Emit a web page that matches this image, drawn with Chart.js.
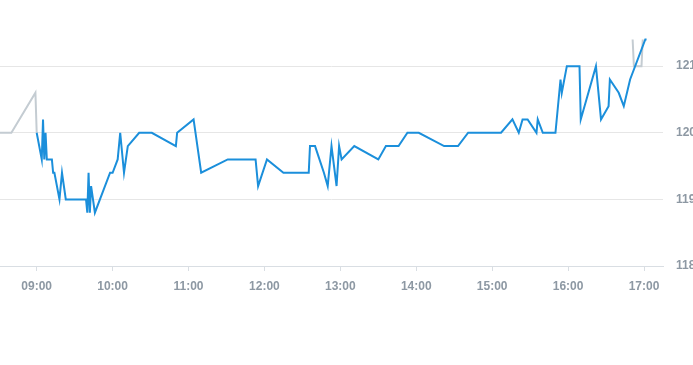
<!DOCTYPE html>
<html>
<head>
    <title>Intraday Price</title>
    <style>
        html, body {
            margin: 0;
            padding: 0;
            background: #ffffff;
            overflow: hidden;
            width: 693px;
            height: 365px;
        }
        #chart-container {
            position: absolute;
            left: 0;
            top: -20px;
        }
    </style>
    <script src="https://cdn.jsdelivr.net/npm/chart.js"></script>
</head>
<body>
    <div id="chart-container">
        <canvas id="chart" width="715" height="320"></canvas>
    </div>
    <script>
        // times are "HH:MM", values are prices
        const regularTimes = [
            '09:00', '09:04', '09:05', '09:06', '09:07', '09:08', '09:12', '09:13', '09:14', '09:18',
            '09:20', '09:23', '09:39', '09:40', '09:41', '09:42', '09:43', '09:46', '09:58', '10:00',
            '10:04', '10:06', '10:09', '10:12', '10:21', '10:31', '10:50', '10:51', '11:04', '11:10',
            '11:31', '11:53', '11:55', '12:02', '12:15', '12:35', '12:36', '12:40', '12:47', '12:50',
            '12:53', '12:57', '12:59', '13:01', '13:11', '13:30', '13:36', '13:46', '13:53', '14:02',
            '14:22', '14:33', '14:41', '15:07', '15:16', '15:21', '15:24', '15:28', '15:35', '15:36',
            '15:40', '15:50', '15:54', '15:55', '15:59', '16:09', '16:10', '16:22', '16:26', '16:32',
            '16:33', '16:40', '16:44', '16:49', '17:01', '17:02'
        ];
        const regularPrices = [
            120.0, 119.6, 120.2, 119.6, 120.0, 119.6, 119.6, 119.4, 119.4, 119.0,
            119.4, 119.0, 119.0, 118.8, 119.4, 118.8, 119.2, 118.8, 119.4, 119.4,
            119.6, 120.0, 119.4, 119.8, 120.0, 120.0, 119.8, 120.0, 120.2, 119.4,
            119.6, 119.6, 119.2, 119.6, 119.4, 119.4, 119.8, 119.8, 119.4, 119.2,
            119.8, 119.2, 119.8, 119.6, 119.8, 119.6, 119.8, 119.8, 120.0, 120.0,
            119.8, 119.8, 120.0, 120.0, 120.2, 120.0, 120.2, 120.2, 120.0, 120.2,
            120.0, 120.0, 120.8, 120.6, 121.0, 121.0, 120.2, 121.0, 120.2, 120.4,
            120.8, 120.6, 120.4, 120.8, 121.4, 121.4
        ];

        const extendedTimes = ['08:25', '08:40', '08:59', '09:00', '16:51', '16:52', '16:58', '16:59'];
        const extendedPrices = [120.0, 120.0, 120.6, 120.0, 121.4, 121.0, 121.0, 121.4];

        const yTicks = [118, 119, 120, 121];

        function toMinutes(t) {
            const parts = t.split(':');
            return parseInt(parts[0]) * 60 + parseInt(parts[1]);
        }

        function toLabel(m) {
            const h = Math.floor(m / 60);
            const mm = m % 60;
            return String(h).padStart(2, '0') + ':' + String(mm).padStart(2, '0');
        }

        function toPoints(times, prices) {
            return times.map((t, i) => ({ x: toMinutes(t), y: prices[i] }));
        }

        const labelColor = '#8d98a3';
        const labelFont = { family: "'Liberation Sans', Arial, sans-serif", size: 12, weight: 'bold' };

        // gaps between the two sessions should not be joined
        const extendedPoints = toPoints(extendedTimes, extendedPrices);
        extendedPoints.splice(4, 0, { x: 700, y: null });

        const chart = new Chart(document.getElementById('chart').getContext('2d'), {
            type: 'line',
            data: {
                datasets: [{
                    label: 'Regular',
                    data: toPoints(regularTimes, regularPrices),
                    borderColor: '#1b8fdb',
                    borderWidth: 2,
                    pointRadius: 0,
                    tension: 0,
                    fill: false
                }, {
                    label: 'Extended',
                    data: extendedPoints,
                    borderColor: '#c4ccd2',
                    borderWidth: 2,
                    pointRadius: 0,
                    tension: 0,
                    fill: false,
                    spanGaps: false
                }]
            },
            options: {
                responsive: false,
                animation: false,
                devicePixelRatio: 1,
                layout: { padding: 0 },
                plugins: {
                    legend: { display: false },
                    tooltip: { enabled: false }
                },
                scales: {
                    x: {
                        type: 'linear',
                        min: toMinutes('08:31'),
                        max: toMinutes('17:15'),
                        afterFit: function(scale) { scale.height = 34; },
                        border: { display: true, color: '#d9dee3', width: 1 },
                        grid: {
                            drawOnChartArea: false,
                            drawTicks: true,
                            tickLength: 5,
                            color: '#d9dee3'
                        },
                        ticks: {
                            stepSize: 60,
                            includeBounds: false,
                            autoSkip: false,
                            maxRotation: 0,
                            padding: 8,
                            color: labelColor,
                            font: labelFont,
                            callback: function(value) { return toLabel(value); }
                        }
                    },
                    y: {
                        position: 'right',
                        min: yTicks[0],
                        max: 121.99,
                        afterFit: function(scale) { scale.width = 715 - 663; },
                        afterBuildTicks: function(scale) {
                            scale.ticks = yTicks.map(v => ({ value: v }));
                        },
                        border: { display: false },
                        grid: {
                            drawTicks: false,
                            color: '#e6e6e6'
                        },
                        ticks: {
                            padding: 13,
                            color: labelColor,
                            font: labelFont,
                            callback: function(value) { return value.toFixed(2); }
                        }
                    }
                }
            }
        });
    </script>
</body>
</html>
